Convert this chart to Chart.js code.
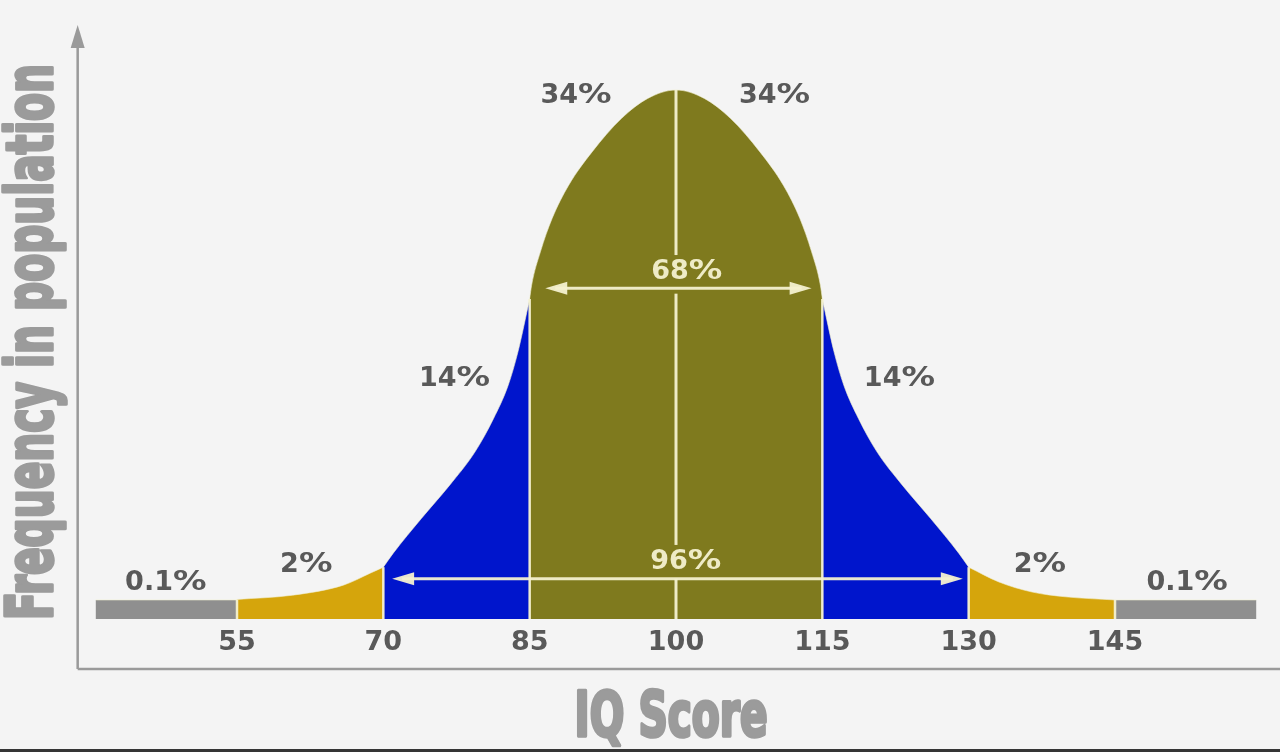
<!DOCTYPE html>
<html>
<head>
<meta charset="utf-8">
<title>IQ Score distribution</title>
<script src="https://cdn.jsdelivr.net/npm/chart.js@4.4.1/dist/chart.umd.min.js"></script>
<style>
  html, body { margin: 0; padding: 0; background: #353535; }
  #wrap { width: 1280px; height: 752px; background: #353535; }
  canvas { display: block; background: #f4f4f4; }
</style>
</head>
<body>
<div id="wrap"><canvas id="bell" width="1280" height="749"></canvas></div>
<script>
// IQ score ticks shown under the curve
const tickValues = [55, 70, 85, 100, 115, 130, 145];

// curve, split by band (x = IQ score, y = relative frequency, peak = 100)
const tailLeftX  = [40.5, 55];
const tailLeftY  = [3.6, 3.6];
const lowLeftX   = [55, 60.7, 65.9, 68.7, 70];
const lowLeftY   = [3.7, 4.5, 6.4, 8.7, 9.8];
const midLeftX   = [70, 71.0, 73.9, 76.8, 79.4, 81.3, 82.8, 83.8, 85];
const midLeftY   = [9.8, 12.4, 19.0, 25.3, 31.6, 37.9, 44.2, 50.5, 60.5];
const centerX    = [85, 85.2, 86.1, 87.3, 89.0, 91.4, 94.4, 97.1, 100, 102.9, 105.6, 108.6, 111.0, 112.7, 113.9, 114.8, 115];
const centerY    = [60.5, 63.1, 69.4, 75.7, 82.0, 88.3, 94.6, 98.4, 100, 98.4, 94.6, 88.3, 82.0, 75.7, 69.4, 63.1, 60.5];
const midRightX  = [115, 116.2, 117.2, 118.7, 120.6, 123.2, 126.1, 129.0, 130];
const midRightY  = [60.5, 50.5, 44.2, 37.9, 31.6, 25.3, 19.0, 12.4, 9.8];
const lowRightX  = [130, 133.1, 136.5, 139.9, 145];
const lowRightY  = [9.8, 7.0, 5.1, 4.2, 3.6];
const tailRightX = [145, 159.5];
const tailRightY = [3.6, 3.6];

// share of population in each band, left to right
const bandShares = [0.1, 2, 14, 34, 34, 14, 2, 0.1];
// spans marked with arrows
const spanShares = [68, 96];

// ---- layout (data units) ----
const shareSpots = [[47.7, 6.8], [62.1, 10.2], [77.3, 45.4], [89.75, 98.9],
                    [110.1, 98.9], [122.9, 45.4], [137.3, 10.2], [152.4, 6.8]];
const spanArrows = [
  { x1: 86.6, x2: 113.9, y: 62.5, tx: 101.1, ty: 65.6 },
  { x1: 70.9, x2: 129.4, y: 7.6,  tx: 101.0, ty: 10.8 }
];

const COL = {
  gray: '#8f8f8f', gold: '#d5a50c', blue: '#0015cc', olive: '#7f7a1e',
  cream: 'rgba(244,241,208,0.95)', label: '#595959', axis: '#9a9a9a', title: '#9b9b9b'
};
const NUM_FONT = '"DejaVu Sans", Verdana, sans-serif';

function pts(xs, ys){ return xs.map((x, i) => ({ x: x, y: ys[i] })); }

function band(xs, ys, color){
  return {
    data: pts(xs, ys),
    backgroundColor: color,
    borderColor: 'rgba(240,238,205,0.6)',
    borderWidth: 1,
    fill: 'origin',
    pointRadius: 0,
    cubicInterpolationMode: 'monotone'
  };
}

function arrowHead(ctx, x, y, dir){
  ctx.beginPath();
  ctx.moveTo(x, y);
  ctx.lineTo(x - dir * 22, y - 6.5);
  ctx.lineTo(x - dir * 22, y + 6.5);
  ctx.closePath();
  ctx.fill();
}

// number + wide Verdana-like percent sign, centred on x
function drawPct(ctx, value, x, y){
  const num = String(value);
  const nw = ctx.measureText(num).width;
  const pw = ctx.measureText('%').width * 1.24;
  const left = x - (nw + pw) / 2;
  ctx.textAlign = 'left';
  ctx.fillText(num, left, y);
  ctx.save();
  ctx.translate(left + nw, y);
  ctx.scale(1.24, 1);
  ctx.fillText('%', 0, 0);
  ctx.restore();
}

// squeeze a heavy sans into the condensed look of the titles
function squishText(ctx, text, x, y, font, targetW, rot){
  ctx.save();
  ctx.translate(x, y);
  if(rot) ctx.rotate(rot);
  ctx.font = font;
  const w = ctx.measureText(text).width;
  ctx.scale(targetW / w, 1);
  ctx.textAlign = 'center';
  ctx.textBaseline = 'alphabetic';
  ctx.lineJoin = 'round';
  ctx.lineWidth = 3.5;
  ctx.strokeText(text, 0, 0);
  ctx.fillText(text, 0, 0);
  ctx.restore();
}

const decor = {
  id: 'decor',
  beforeDatasetsDraw(chart){
    const { ctx, chartArea } = chart;
    const ax = chartArea.left - 13;
    const ay = chartArea.bottom + 50;
    ctx.save();
    ctx.strokeStyle = COL.axis;
    ctx.fillStyle = COL.axis;
    ctx.lineWidth = 2.5;
    ctx.beginPath();
    ctx.moveTo(ax, ay);
    ctx.lineTo(ax, 44);
    ctx.moveTo(ax, ay);
    ctx.lineTo(chart.width, ay);
    ctx.stroke();
    ctx.beginPath();
    ctx.moveTo(ax, 25);
    ctx.lineTo(ax - 7, 48);
    ctx.lineTo(ax + 7, 48);
    ctx.closePath();
    ctx.fill();
    ctx.restore();
  },
  afterDatasetsDraw(chart){
    const { ctx, chartArea } = chart;
    const xs = chart.scales.x, ys = chart.scales.y;
    const base = ys.getPixelForValue(0);
    ctx.save();

    // thin separators between bands
    ctx.strokeStyle = COL.cream;
    ctx.lineWidth = 2.5;
    const edges = [[55, lowLeftY[0]], [70, midLeftY[0]], [85, centerY[0]],
                   [115, midRightY[0]], [130, lowRightY[0]], [145, tailRightY[0]]];
    edges.forEach(([v, h]) => {
      const px = xs.getPixelForValue(v);
      ctx.beginPath();
      ctx.moveTo(px, base);
      ctx.lineTo(px, ys.getPixelForValue(h));
      ctx.stroke();
    });

    // mean line, broken around the span labels
    const mx = xs.getPixelForValue(100);
    const peak = ys.getPixelForValue(Math.max(...centerY));
    const cuts = [[peak, ys.getPixelForValue(spanArrows[0].ty + 3.2)],
                  [ys.getPixelForValue(spanArrows[0].y - 1), ys.getPixelForValue(spanArrows[1].ty + 3.2)],
                  [ys.getPixelForValue(spanArrows[1].y), base]];
    ctx.lineWidth = 3;
    cuts.forEach(([a, b]) => {
      ctx.beginPath(); ctx.moveTo(mx, a); ctx.lineTo(mx, b); ctx.stroke();
    });

    // span arrows and labels
    ctx.fillStyle = COL.cream;
    ctx.font = 'bold 27px ' + NUM_FONT;
    ctx.textBaseline = 'middle';
    spanArrows.forEach((a, i) => {
      const x1 = xs.getPixelForValue(a.x1), x2 = xs.getPixelForValue(a.x2);
      const y = ys.getPixelForValue(a.y);
      ctx.beginPath(); ctx.moveTo(x1 + 10, y); ctx.lineTo(x2 - 10, y); ctx.stroke();
      arrowHead(ctx, x1, y, -1);
      arrowHead(ctx, x2, y, 1);
      drawPct(ctx, spanShares[i], xs.getPixelForValue(a.tx), ys.getPixelForValue(a.ty));
    });

    // band shares
    ctx.fillStyle = COL.label;
    bandShares.forEach((s, i) => {
      const [vx, vy] = shareSpots[i];
      drawPct(ctx, s, xs.getPixelForValue(vx), ys.getPixelForValue(vy));
    });

    // score ticks
    ctx.font = 'bold 27px ' + NUM_FONT;
    ctx.textAlign = 'center';
    tickValues.forEach(v => {
      ctx.fillText(String(v), xs.getPixelForValue(v), base + 24);
    });

    // axis titles
    ctx.fillStyle = COL.title;
    ctx.strokeStyle = COL.title;
    const tf = 'bold 62px "Liberation Sans Narrow", "DejaVu Sans Condensed", "Liberation Sans", sans-serif';
    squishText(ctx, 'IQ Score', xs.getPixelForValue(100) - 5, chartArea.bottom + 117, tf, 193, 0);
    const tf2 = 'bold 64px "Liberation Sans Narrow", "DejaVu Sans Condensed", "Liberation Sans", sans-serif';
    squishText(ctx, 'Frequency in population', 52, 342, tf2, 556, -Math.PI / 2);
    ctx.restore();
  }
};

new Chart(document.getElementById('bell'), {
  type: 'line',
  data: {
    datasets: [
      band(tailLeftX, tailLeftY, COL.gray),
      band(lowLeftX, lowLeftY, COL.gold),
      band(midLeftX, midLeftY, COL.blue),
      band(centerX, centerY, COL.olive),
      band(midRightX, midRightY, COL.blue),
      band(lowRightX, lowRightY, COL.gold),
      band(tailRightX, tailRightY, COL.gray)
    ]
  },
  options: {
    responsive: false,
    animation: false,
    layout: { padding: { left: 90.67, right: 18.67, top: 31.8, bottom: 130 } },
    plugins: { legend: { display: false }, tooltip: { enabled: false } },
    scales: {
      x: { type: 'linear', min: 40, max: 160, display: false },
      y: { min: 0, max: 111, display: false }
    }
  },
  plugins: [decor]
});
</script>
</body>
</html>
